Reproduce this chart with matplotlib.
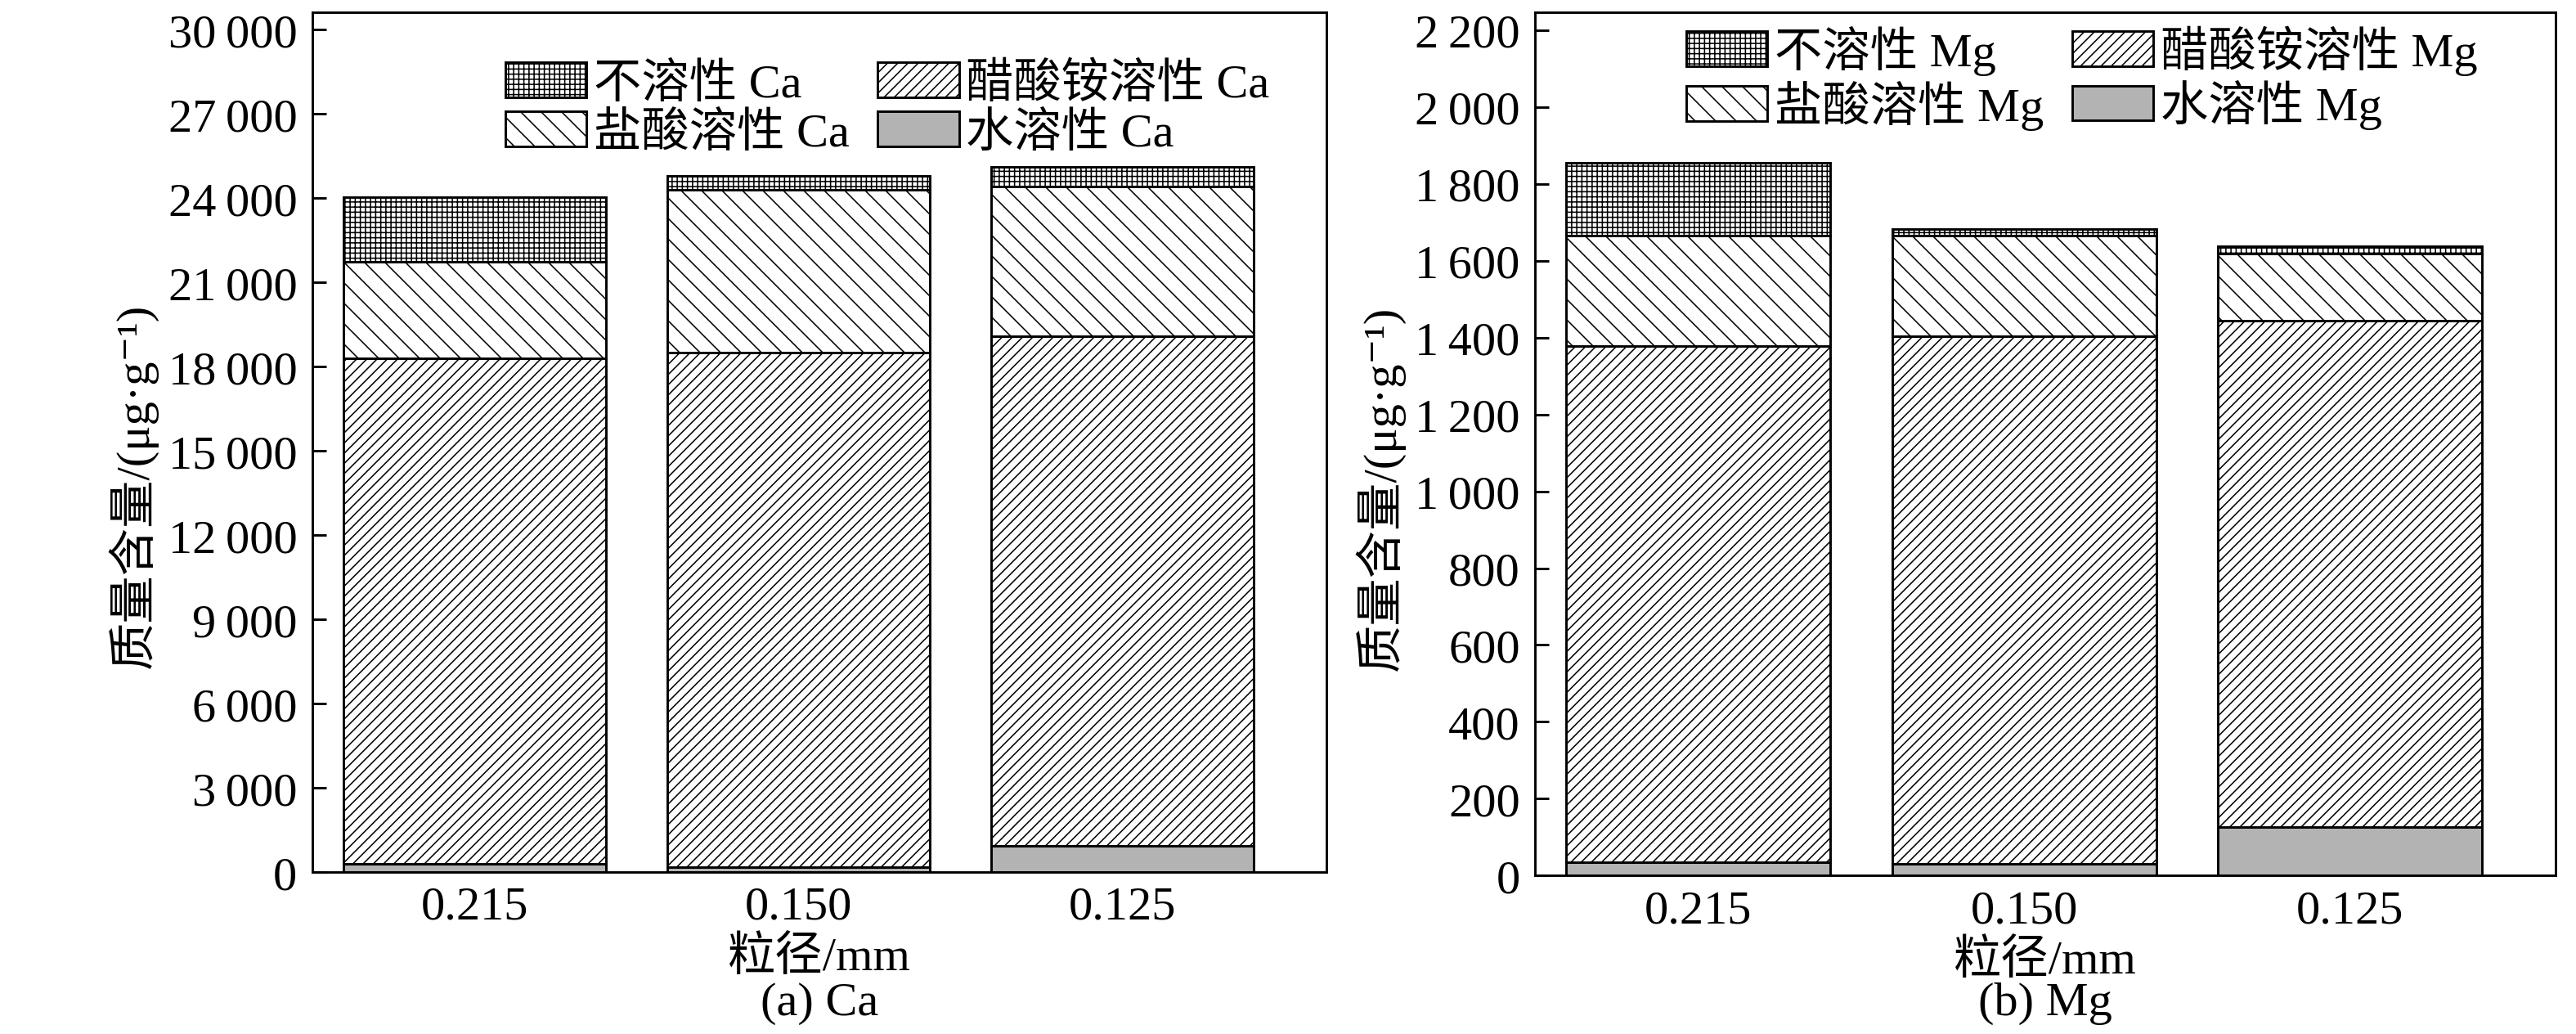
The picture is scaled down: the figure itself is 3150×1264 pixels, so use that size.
import numpy as np
import matplotlib
matplotlib.use("Agg")
import matplotlib.pyplot as plt
from matplotlib.ticker import FuncFormatter, MultipleLocator

plt.rcParams['font.family'] = ['Liberation Serif', 'Noto Sans CJK SC', 'DejaVu Serif']
plt.rcParams['hatch.linewidth'] = 0.75
plt.rcParams['hatch.color'] = 'black'

sizes = ['0.215', '0.150', '0.125']

# Ca fractions (ug/g)
ca_water = [285, 165, 925]
ca_acetate = [18015, 18335, 18155]
ca_hcl = [3440, 5780, 5320]
ca_insol = [2300, 500, 710]

# Mg fractions (ug/g)
mg_water = [35, 31, 127]
mg_acetate = [1342, 1372, 1317]
mg_hcl = [287, 261, 174]
mg_insol = [191, 18, 20]

fs = 28
gray = '#b3b3b3'


def thin_fmt(v, pos):
    return f'{v:,.0f}'.replace(',', '\u2009')


def panel(ax, water, acetate, hcl, insol, el, ymax, step, leg_x, leg_y):
    x = np.arange(len(sizes))
    w = 0.81
    b = np.zeros(len(sizes))
    kw = dict(edgecolor='black', linewidth=1.4)
    h_w = ax.bar(x, water, w, bottom=b, color=gray, **kw)
    b = b + np.array(water)
    h_a = ax.bar(x, acetate, w, bottom=b, color='white', hatch='////', **kw)
    b = b + np.array(acetate)
    h_h = ax.bar(x, hcl, w, bottom=b, color='white', hatch='\\\\', **kw)
    b = b + np.array(hcl)
    h_i = ax.bar(x, insol, w, bottom=b, color='white', hatch='++++', **kw)

    ax.set_xlim(-0.5, 2.63)
    ax.set_ylim(0, ymax)
    ax.yaxis.set_major_locator(MultipleLocator(step))
    ax.yaxis.set_major_formatter(FuncFormatter(thin_fmt))
    ax.set_xticks(x)
    ax.set_xticklabels(sizes)
    ax.tick_params(axis='y', direction='in', length=8, width=1.4, pad=9, labelsize=fs)
    ax.tick_params(axis='x', length=0, pad=8, labelsize=fs)
    for s in ax.spines.values():
        s.set_linewidth(1.4)
    ax.set_ylabel('质量含量/(μg·g⁻¹)', fontsize=fs, labelpad=6)
    ax.yaxis.label.set_y(0.45)
    ax.set_xlabel('粒径/mm', fontsize=fs, labelpad=4)

    ax.legend([h_i, h_h, h_a, h_w],
              ['不溶性 ' + el, '盐酸溶性 ' + el, '醋酸铵溶性 ' + el, '水溶性 ' + el],
              ncol=2, frameon=False, fontsize=fs, loc='upper left',
              bbox_to_anchor=(leg_x, leg_y), borderaxespad=0, borderpad=0,
              handlelength=1.7, handleheight=0.75, handletextpad=0.15,
              labelspacing=0.1, columnspacing=0.6)


fig = plt.figure(figsize=(21, 8.4333), dpi=150)
ax1 = fig.add_axes([0.1213, 0.1565, 0.3936, 0.8305])
ax2 = fig.add_axes([0.596, 0.153, 0.396, 0.834])

panel(ax1, ca_water, ca_acetate, ca_hcl, ca_insol, 'Ca', 30600, 3000, 0.19, 0.943)
panel(ax2, mg_water, mg_acetate, mg_hcl, mg_insol, 'Mg', 2245, 200, 0.148, 0.986)

fig.text(0.3181, 0.03, '(a) Ca', ha='center', va='center', fontsize=fs)
fig.text(0.794, 0.03, '(b) Mg', ha='center', va='center', fontsize=fs)

fig.savefig('out.png', dpi=150)
